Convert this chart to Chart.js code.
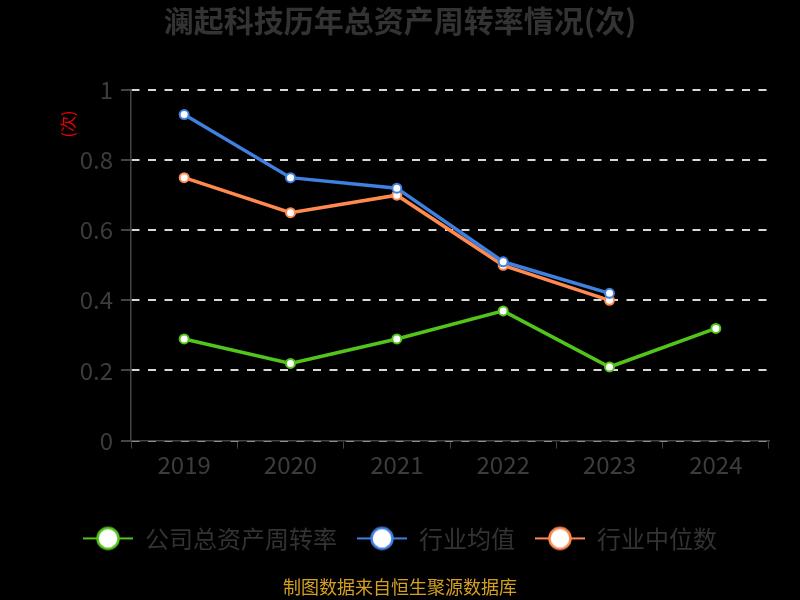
<!DOCTYPE html>
<html>
<head>
<meta charset="utf-8">
<script src="https://cdn.jsdelivr.net/npm/chart.js@4/dist/chart.umd.min.js"></script>
<style>
  html, body { margin: 0; padding: 0; background: #000; }
  #wrap { width: 800px; height: 600px; }
</style>
</head>
<body>
<div id="wrap"><canvas id="zzl"></canvas></div>
<script>
// dados
var anos = ['2019', '2020', '2021', '2022', '2023', '2024'];
var empresa = [0.29, 0.22, 0.29, 0.37, 0.21, 0.32];
var media = [0.93, 0.75, 0.72, 0.51, 0.42, null];
var mediana = [0.75, 0.65, 0.70, 0.50, 0.40, null];
var ticksY = [0, 0.2, 0.4, 0.6, 0.8, 1];

var fonte = '"Noto Sans CJK SC", "Noto Sans", sans-serif';

// icone da legenda: linha + circulo
function icone(cor) {
    var c = document.createElement('canvas');
    c.width = 50; c.height = 26;
    var g = c.getContext('2d');
    g.strokeStyle = cor;
    g.lineWidth = 2;
    g.beginPath(); g.moveTo(0, 13); g.lineTo(50, 13); g.stroke();
    g.fillStyle = '#fff';
    g.lineWidth = 2.5;
    g.beginPath(); g.arc(25, 13, 10.5, 0, Math.PI * 2); g.fill(); g.stroke();
    return c;
}

function serie(nome, valores, cor) {
    return {
        label: nome,
        data: valores,
        borderColor: cor,
        backgroundColor: '#fff',
        borderWidth: 3.5,
        pointRadius: 4.5,
        pointBorderWidth: 2,
        pointBackgroundColor: '#fff',
        pointBorderColor: cor,
        tension: 0,
        spanGaps: false
    };
}

var ctx = document.getElementById('zzl').getContext('2d');
var chart = new Chart(ctx, {
    type: 'line',
    data: {
        labels: anos,
        datasets: [
            serie('公司总资产周转率', empresa, '#52c41a'),
            serie('行业均值', media, '#4080e0'),
            serie('行业中位数', mediana, '#ff8a50')
        ]
    },
    options: {
        responsive: true,
        maintainAspectRatio: false,
        animation: false,
        layout: { padding: { left: 31, right: 31, top: 0, bottom: 2 } },
        scales: {
            x: {
                offset: true,
                grid: { display: true, offset: true, drawOnChartArea: false, drawTicks: true, tickLength: 8, color: '#444' },
                border: { color: '#444', width: 1.5 },
                ticks: { color: '#3c3c3c', font: { family: fonte, size: 24 }, padding: 2 },
                afterFit: function (s) { s.height += 25; }
            },
            y: {
                min: 0,
                max: 1,
                afterBuildTicks: function (ax) {
                    ax.ticks = ticksY.map(function (v) { return { value: v }; });
                },
                afterFit: function (s) { s.width = 100; },
                grid: {
                    color: '#d8d8d8',
                    lineWidth: 2,
                    tickLength: 10,
                    tickColor: '#444',
                    tickBorderDash: [],
                    tickBorderDashOffset: 0
                },
                border: { color: '#444', width: 1.5, dash: [8, 8.5] },
                ticks: {
                    color: '#3c3c3c',
                    font: { family: fonte, size: 24 },
                    padding: 8,
                    callback: function (v) { return String(Math.round(v * 10) / 10); }
                }
            }
        },
        plugins: {
            title: {
                display: true,
                text: '澜起科技历年总资产周转率情况(次)',
                color: '#333',
                font: { family: fonte, size: 30, weight: 'bold' },
                padding: { top: 3, bottom: 51 }
            },
            subtitle: {
                display: true,
                position: 'bottom',
                text: '制图数据来自恒生聚源数据库',
                color: '#d4a020',
                font: { family: fonte, size: 18 },
                padding: { top: 16, bottom: 0 }
            },
            legend: {
                position: 'bottom',
                labels: {
                    usePointStyle: true,
                    pointStyleWidth: 50,
                    color: '#333',
                    font: { family: fonte, size: 24 },
                    padding: 20,
                    generateLabels: function (ch) {
                        return ch.data.datasets.map(function (d, i) {
                            return {
                                text: d.label,
                                pointStyle: icone(d.borderColor),
                                fontColor: '#333',
                                datasetIndex: i,
                                hidden: false,
                                lineWidth: 0
                            };
                        });
                    }
                }
            },
            tooltip: { enabled: false }
        }
    },
    plugins: [{
        id: 'fundo',
        beforeDraw: function (ch) {
            var g = ch.ctx;
            g.save();
            g.fillStyle = '#000';
            g.fillRect(0, 0, ch.width, ch.height);
            g.restore();
        }
    }, {
        // titulo do eixo y "(次)" perto do topo
        id: 'tituloY',
        afterDraw: function (ch) {
            var g = ch.ctx;
            var a = ch.chartArea;
            g.save();
            g.translate(a.left - 63, a.top + 34);
            g.rotate(-Math.PI / 2);
            g.fillStyle = '#e00';
            g.font = '16px ' + fonte;
            g.textAlign = 'center';
            g.textBaseline = 'middle';
            g.fillText('(次)', 0, 0);
            g.restore();
        }
    }]
});
</script>
</body>
</html>
